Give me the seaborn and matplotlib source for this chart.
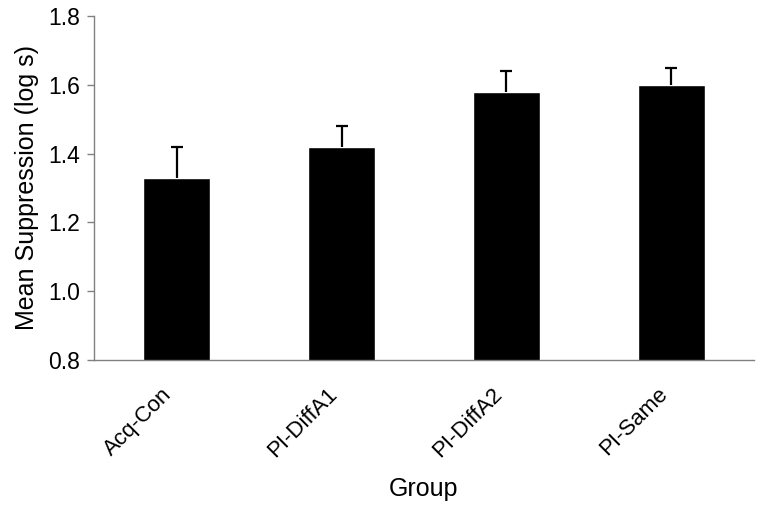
import matplotlib
matplotlib.use("Agg")
import matplotlib.pyplot as plt
import pandas as pd
import seaborn as sns

groups = ["Acq-Con", "PI-DiffA1", "PI-DiffA2", "PI-Same"]
means = [1.33, 1.42, 1.58, 1.60]
errors = [0.09, 0.06, 0.06, 0.05]

df = pd.DataFrame({"Group": groups, "Mean": means})

sns.set_style("white")
plt.rcParams["font.family"] = ["Liberation Sans", "DejaVu Sans"]
plt.rcParams["text.color"] = "black"
plt.rcParams["axes.labelcolor"] = "black"
plt.rcParams["xtick.color"] = "black"
plt.rcParams["ytick.color"] = "black"

fig = plt.figure(figsize=(7.67, 5.07), dpi=100)
ax = fig.add_axes([0.1226, 0.290, 0.8604, 0.6784])

sns.barplot(data=df, x="Group", y="Mean", color="black", width=0.41,
            saturation=1, errorbar=None, ax=ax)
eb = ax.errorbar(range(len(groups)), means, yerr=[[0] * len(groups), errors],
                 fmt="none", ecolor="black", elinewidth=1.6, capsize=4.5, capthick=1.6)
# only the upper cap
eb[1][0].set_visible(False)

ax.set_ylim(0.8, 1.8)
ax.set_yticks([0.8, 1.0, 1.2, 1.4, 1.6, 1.8])
ax.set_yticklabels(["0.8", "1.0", "1.2", "1.4", "1.6", "1.8"], fontsize=16.5)
ax.set_xlim(-0.5, len(groups) - 0.5)
ax.set_xticks([i - 0.5 for i in range(len(groups) + 1)], minor=True)
ax.set_xticklabels(groups, rotation=45, ha="right", fontsize=16)
ax.tick_params(axis="x", which="major", length=0, pad=17)
ax.tick_params(axis="x", which="minor", length=5, color="#808080", width=1, direction="out")
ax.tick_params(axis="y", length=5, color="#808080", width=1, direction="out", left=True, pad=5)

for s in ["top", "right"]:
    ax.spines[s].set_visible(False)
for s in ["left", "bottom"]:
    ax.spines[s].set_color("#808080")
    ax.spines[s].set_linewidth(1)

ax.set_xlabel("Group", fontsize=18, labelpad=11)
ax.set_ylabel("Mean Suppression (log s)", fontsize=18, labelpad=7)

fig.savefig("out.png", dpi=100)
